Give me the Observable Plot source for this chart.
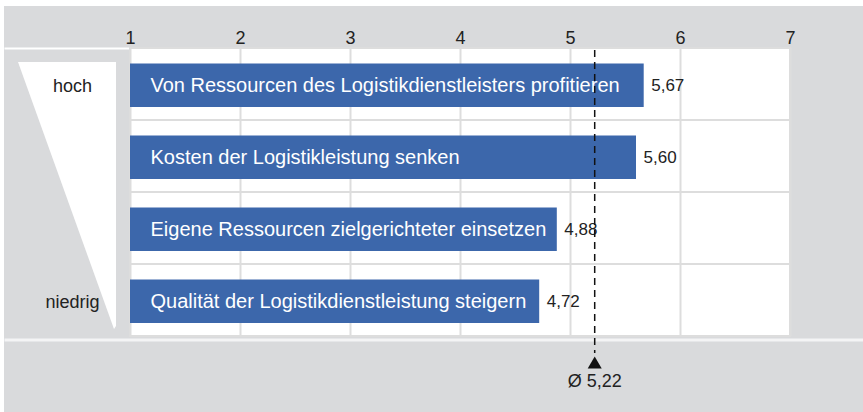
<!DOCTYPE html>
<html>
<head>
<meta charset="utf-8">
<script src="https://cdn.jsdelivr.net/npm/d3@7"></script>
<script src="https://cdn.jsdelivr.net/npm/@observablehq/plot@0.6"></script>
<style>
  html, body { margin: 0; padding: 0; background: #ffffff; }
  #chart svg { display: block; margin: 6px 0 0 4px; background: #d9dadc; }
  #chart svg [aria-label^="x-axis"], #chart svg [aria-label^="x-axis"] text { font-size: 18px; fill: #222; }
</style>
</head>
<body>
<div id="chart"></div>
<script>
// ---- data ----
const categories = [
  "Von Ressourcen des Logistikdienstleisters profitieren",
  "Kosten der Logistikleistung senken",
  "Eigene Ressourcen zielgerichteter einsetzen",
  "Qualität der Logistikdienstleistung steigern"
];
const values = [5.67, 5.60, 4.88, 4.72];
const meanValue = 5.22;
const ticks = [1, 2, 3, 4, 5, 6, 7];
const levelLabels = ["hoch", "niedrig"]; // top and bottom of the ranking

// ---- layout ----
const W = 859, H = 406;
const mL = 126, mR = 73, mT = 42, mB = 76;
const plotW = W - mL - mR, plotH = H - mT - mB;
const font = "Liberation Sans, Arial, Helvetica, sans-serif";
const fmt = v => d3.format(".2f")(v).replace(".", ",");

const data = categories.map((c, i) => ({label: c, value: values[i]}));
const levels = [
  {label: categories[0], text: levelLabels[0]},
  {label: categories[categories.length - 1], text: levelLabels[1]}
];
const xMin = ticks[0], xMax = ticks[ticks.length - 1];

const wedge = () => {
  const g = d3.create("svg:g");
  g.append("polygon")
    .attr("points", [
      [mL - 112, mT + 14], [mL - 14, mT + 14],
      [mL - 14, H - mB - 10], [mL - 16, H - mB - 7]
    ].map(p => p.join(",")).join(" "))
    .attr("fill", "#ffffff");
  return g.node();
};

const chart = Plot.plot({
  width: W,
  height: H,
  marginLeft: mL,
  marginRight: mR,
  marginTop: mT,
  marginBottom: mB,
  style: {fontFamily: font, fontSize: "18px", color: "#222", background: "#d9dadc", overflow: "visible"},
  x: {domain: [xMin, xMax], axis: "top", ticks: ticks, tickSize: 0, tickPadding: 5, label: null, tickFormat: d => String(d)},
  y: {domain: categories, padding: 0, axis: null},
  marks: [
    Plot.frame({fill: "#ffffff"}),
    Plot.frame({fill: "#ffffff", insetLeft: -mL, insetRight: plotW, insetTop: -1, insetBottom: plotH - 1}),
    Plot.frame({fill: "#f4f4f5", insetLeft: -mL, insetRight: -mR, insetTop: plotH + 2, insetBottom: -5}),
    wedge,
    Plot.barX(categories, {y: d => d, x1: xMin, x2: xMax, fill: "none", stroke: "#dddddd", strokeWidth: 2}),
    Plot.ruleX(ticks, {stroke: "#dddddd", strokeWidth: 2}),
    Plot.barX(data, {y: "label", x1: xMin, x2: "value", fill: "#3c67ab", insetTop: 15.5, insetBottom: 13}),
    Plot.text(data, {y: "label", x: xMin, dx: 20, dy: 1, text: "label", textAnchor: "start", fill: "#ffffff", fontSize: 20}),
    Plot.text(data, {y: "label", x: "value", dx: 7, dy: 1, text: d => fmt(d.value), textAnchor: "start", fill: "#222", fontSize: 17}),
    Plot.text(levels, {y: "label", text: "text", frameAnchor: "left", dx: -58, dy: 2, textAnchor: "middle", fill: "#222", fontSize: 18}),
    Plot.ruleX([meanValue], {stroke: "#111", strokeWidth: 1.5, strokeDasharray: "7,5", insetTop: 2, insetBottom: -17}),
    Plot.dot([meanValue], {x: d => d, frameAnchor: "bottom", dy: 28, symbol: "triangle", r: 5.2, fill: "#111", stroke: "none"}),
    Plot.text([meanValue], {x: d => d, frameAnchor: "bottom", dy: 50, text: d => "Ø " + fmt(d), fill: "#222", fontSize: 18})
  ]
});
document.getElementById("chart").appendChild(chart);
</script>
</body>
</html>
